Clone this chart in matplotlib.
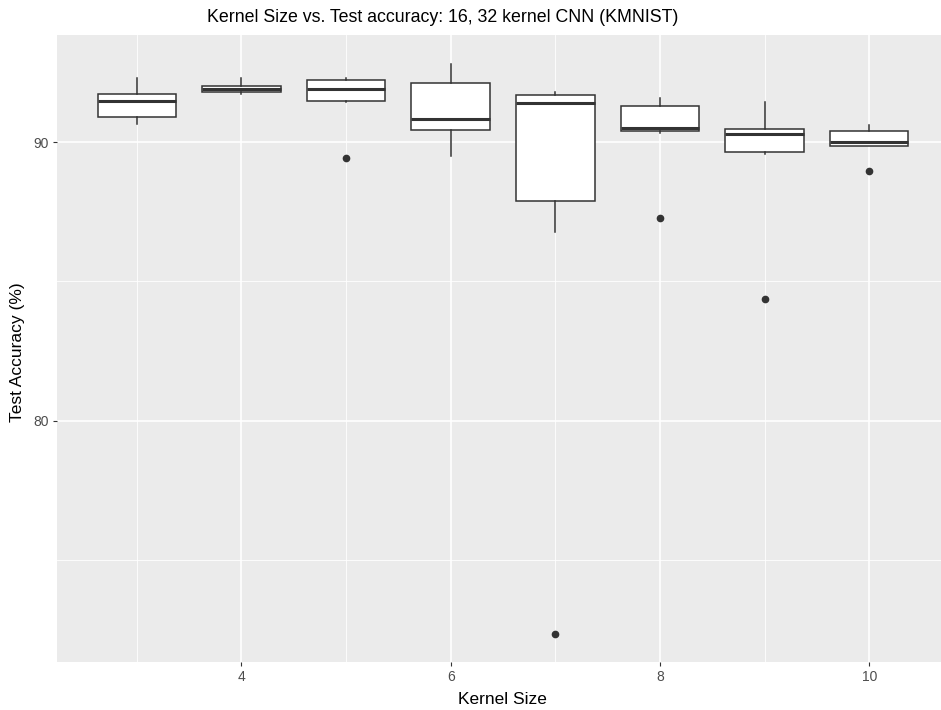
import matplotlib.pyplot as plt

# box statistics (test accuracy in %)
kernel_size = [3, 4, 5, 6, 7, 8, 9, 10]
whisker_hi = [92.29, 92.29, 92.29, 92.80, 91.80, 91.58, 91.42, 90.61]
q3 = [91.72, 92.02, 92.23, 92.10, 91.67, 91.28, 90.46, 90.38]
median = [91.47, 91.90, 91.90, 90.82, 91.39, 90.52, 90.27, 89.99]
q1 = [90.88, 91.78, 91.48, 90.42, 87.88, 90.38, 89.65, 89.86]
whisker_lo = [90.66, 91.71, 91.45, 89.51, 86.76, 90.34, 89.56, 89.84]
outliers = [[], [], [89.44], [], [72.36], [87.28], [84.36], [88.96]]

stats = []
for i in range(len(kernel_size)):
    stats.append({'whishi': whisker_hi[i], 'q3': q3[i], 'med': median[i],
                  'q1': q1[i], 'whislo': whisker_lo[i], 'fliers': outliers[i]})

W, H = 941, 710
fig = plt.figure(figsize=(W / 100, H / 100), dpi=100)
# panel runs a little past the right edge of the picture, like the reference
ax = fig.add_axes([57 / W, 1 - 662 / H, (949 - 57) / W, (662 - 35) / H])
ax.set_facecolor('#EBEBEB')
for s in ax.spines.values():
    s.set_visible(False)

dark = '#333333'
ax.bxp(stats, positions=kernel_size, widths=0.75, patch_artist=True,
       showcaps=False, manage_ticks=False,
       boxprops=dict(facecolor='white', edgecolor=dark, linewidth=1.1),
       medianprops=dict(color=dark, linewidth=2.2),
       whiskerprops=dict(color=dark, linewidth=1.1),
       flierprops=dict(marker='o', markerfacecolor=dark, markeredgecolor=dark,
                       markersize=4.5),
       zorder=3)

ax.set_xlim(2.2375, 10.7625)
ax.set_ylim(71.34, 93.84)
ax.set_xticks([4, 6, 8, 10])
ax.set_xticks([3, 5, 7, 9], minor=True)
ax.set_yticks([80, 90])
ax.set_yticks([75, 85], minor=True)
ax.grid(which='major', color='white', linewidth=1.2, zorder=0)
ax.grid(which='minor', color='white', linewidth=0.6, zorder=0)
ax.set_axisbelow(True)
ax.tick_params(which='major', length=3, width=0.8, color=dark,
               labelcolor='#4D4D4D', labelsize=10, pad=3)
ax.tick_params(which='minor', length=0)
for lab in ax.get_xticklabels() + ax.get_yticklabels():
    lab.set_fontfamily('Liberation Sans')

fig.text(443 / W, 1 - 18 / H, 'Kernel Size vs. Test accuracy: 16, 32 kernel CNN (KMNIST)',
         ha='center', va='center', fontsize=12.8, fontfamily='Liberation Sans')
fig.text(502 / W, 1 - 699 / H, 'Kernel Size', ha='center', va='center',
         fontsize=12.5, fontfamily='Liberation Sans')
fig.text(18 / W, 1 - 352 / H, 'Test Accuracy (%)', ha='center', va='center',
         rotation=90, fontsize=12.5, fontfamily='Liberation Sans')

fig.savefig('out.png', dpi=100)
